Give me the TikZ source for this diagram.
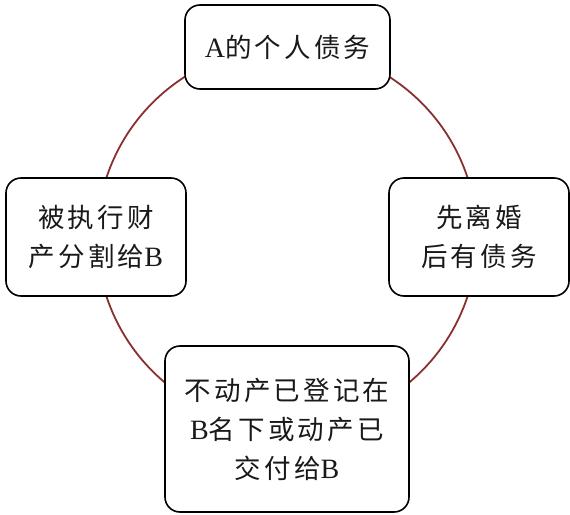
\documentclass[tikz,border=0pt]{standalone}
\usepackage{fontspec}
\setmainfont{Liberation Serif}
\newfontfamily\cjk[LetterSpace=12]{Noto Sans CJK SC}
\newcommand{\lat}[1]{{\rmfamily\fontsize{28}{38}\selectfont #1}}
\definecolor{ringred}{HTML}{8B2E2E}
\begin{document}
\begin{tikzpicture}[x=1pt,y=-1pt,
  box/.style={draw=black, line width=1.6pt, rounded corners=15pt, fill=white,
    inner sep=0pt, align=center, text=black!90,
    font=\cjk\fontsize{26.5}{39}\selectfont},
  ring/.style={draw=ringred, line width=1.8pt}]
\useasboundingbox (0,0) rectangle (570,514);
\coordinate (c) at (287,237);
\draw[ring] (c) circle[radius=190pt];
\node[box, minimum width=205pt, minimum height=84pt] (top) at (287.5,47) {\lat{A}的个人债务};
\node[box, minimum width=180pt, minimum height=118pt] (left) at (96,237) {被执行财\\产分割给\lat{B}};
\node[box, minimum width=180pt, minimum height=118pt] (right) at (479,237) {先离婚\\后有债务};
\node[box, minimum width=244pt, minimum height=166pt] (bottom) at (287,429) {不动产已登记在\\\lat{B}名下或动产已\\交付给\lat{B}};
\end{tikzpicture}
\end{document}
